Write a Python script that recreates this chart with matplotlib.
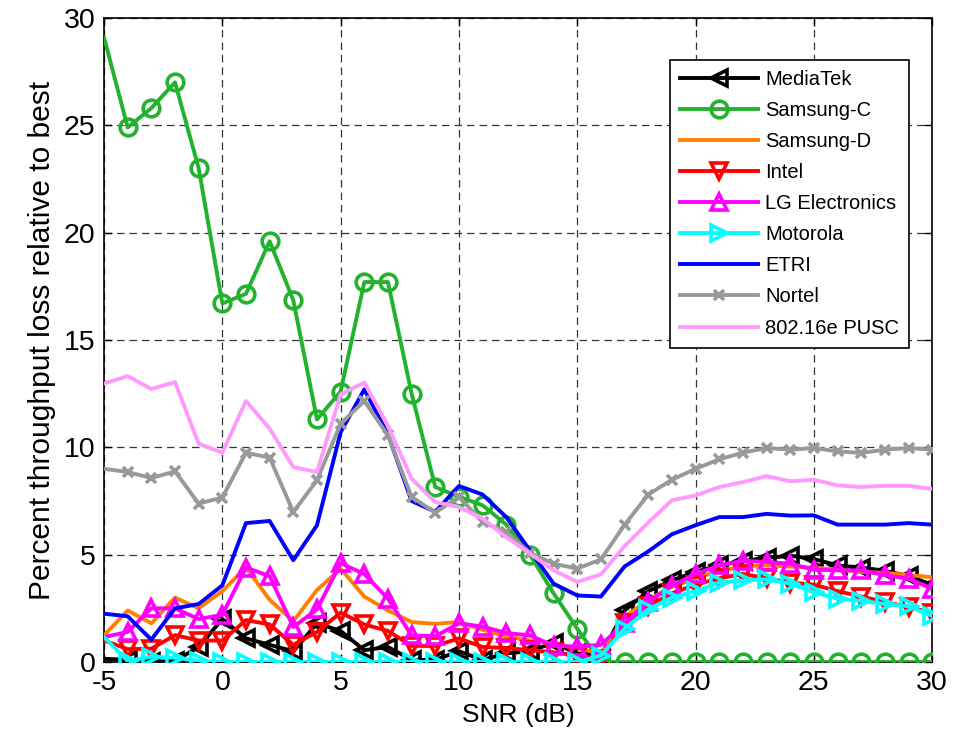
import matplotlib
matplotlib.use("Agg")
import matplotlib.pyplot as plt

plt.rcParams['font.family'] = ['Liberation Sans', 'DejaVu Sans']
plt.rcParams['axes.unicode_minus'] = False

snr = list(range(-5, 31))

mediatek = [0.15, 0.1, 0.0, 0.05, 0.7, 2.0, 1.1, 0.8, 0.5, 1.8, 1.45, 0.55, 0.7, 0.1, 0.1, 0.5,
            0.1, 0.4, 0.5, 0.9, 0.4, 0.3, 2.4, 3.3, 3.8, 4.2, 4.5, 4.7, 4.85, 4.95, 4.8, 4.5,
            4.4, 4.25, 4.0, 3.6]
samsung_c = [29.1, 24.9, 25.8, 27.0, 23.0, 16.7, 17.15, 19.6, 16.85, 11.3, 12.6, 17.7, 17.7,
             12.5, 8.15, 7.7, 7.3, 6.4, 5.0, 3.2, 1.55, 0, 0, 0, 0, 0, 0, 0, 0, 0, 0, 0, 0, 0, 0, 0]
samsung_d = [1.24, 2.4, 1.8, 3.0, 2.5, 3.3, 4.4, 2.9, 1.9, 3.35, 4.35, 3.05, 2.4, 1.86, 1.78,
             1.86, 1.5, 1.2, 1.0, 0.85, 0.65, 0.4, 2.1, 2.9, 3.5, 3.9, 4.25, 4.45, 4.5, 4.45,
             4.4, 4.3, 4.2, 4.15, 4.05, 3.95]
intel = [1.0, 0.6, 0.62, 1.25, 1.0, 1.0, 1.95, 1.75, 0.8, 1.4, 2.3, 1.75, 1.45, 0.75, 0.75,
         1.1, 0.7, 0.65, 0.55, 0.45, 0.3, 0.15, 1.8, 2.6, 3.2, 3.6, 3.9, 4.1, 3.9, 3.7, 3.6,
         3.3, 3.05, 2.8, 2.55, 2.3]
lg = [1.16, 1.4, 2.5, 2.5, 2.0, 2.2, 4.4, 4.0, 1.63, 2.45, 4.6, 4.1, 2.95, 1.24, 1.2, 1.8,
      1.65, 1.35, 1.24, 0.75, 0.72, 0.8, 1.8, 2.8, 3.55, 4.1, 4.5, 4.72, 4.66, 4.58, 4.3,
      4.27, 4.27, 4.05, 3.88, 3.42]
motorola = [1.16, 0.05, 0.25, 0.2, 0.05, 0, 0, 0, 0, 0, 0, 0, 0, 0, 0, 0, 0, 0, 0, 0, 0,
            0.3, 1.55, 2.45, 3.0, 3.3, 3.7, 3.8, 3.85, 3.65, 3.25, 2.95, 2.85, 2.7, 2.6, 2.15]
etri = [2.25, 2.13, 1.04, 2.5, 2.7, 3.57, 6.47, 6.57, 4.74, 6.37, 10.7, 12.7, 10.6, 7.5, 7.0,
        8.2, 7.8, 6.75, 5.2, 3.65, 3.1, 3.05, 4.45, 5.15, 5.95, 6.37, 6.75, 6.75, 6.9, 6.82,
        6.83, 6.4, 6.4, 6.4, 6.47, 6.4]
nortel = [9.0, 8.85, 8.57, 8.88, 7.38, 7.66, 9.75, 9.52, 6.99, 8.46, 11.1, 12.16, 10.56, 7.69,
          6.96, 7.69, 6.52, 6.06, 5.08, 4.58, 4.35, 4.78, 6.39, 7.8, 8.49, 9.0, 9.44, 9.75,
          9.97, 9.89, 9.97, 9.81, 9.74, 9.89, 9.97, 9.89]
pusc = [12.97, 13.32, 12.72, 13.04, 10.17, 9.75, 12.16, 10.87, 9.08, 8.85, 12.47, 13.01, 11.0,
        8.54, 7.45, 7.22, 6.68, 5.82, 5.05, 4.27, 3.73, 4.08, 5.4, 6.5, 7.53, 7.76, 8.15, 8.38,
        8.66, 8.42, 8.49, 8.23, 8.15, 8.21, 8.21, 8.06]

labels = ['MediaTek', 'Samsung-C', 'Samsung-D', 'Intel', 'LG Electronics', 'Motorola',
          'ETRI', 'Nortel', '802.16e PUSC']
series = [mediatek, samsung_c, samsung_d, intel, lg, motorola, etri, nortel, pusc]
colors = ['#000000', '#22b22e', '#ff8000', '#ff0000', '#ff00ff', '#00ffff', '#0000ff',
          '#999999', '#ff99ff']
markers = ['<', 'o', None, 'v', '^', '>', None, 'x', None]
msizes = [12, 12, 0, 12, 12, 12, 0, 7, 0]

fig = plt.figure(figsize=(9.63, 7.40), dpi=100)
ax = fig.add_axes([0.108, 0.1054, 0.86, 0.8703])

for i, (lab, ys, c, m, ms) in enumerate(zip(labels, series, colors, markers, msizes)):
    kw = dict(color=c, lw=2.8, label=lab, zorder=3 + i)
    if m is not None:
        kw.update(marker=m, markersize=ms, markerfacecolor='none', markeredgecolor=c,
                  markeredgewidth=2.6, markevery=slice(1, None))
    ax.plot(snr, ys, **kw)

ax.set_xlim(-5, 30)
ax.set_ylim(0, 30)
ax.set_xticks(range(-5, 31, 5))
ax.set_yticks(range(0, 31, 5))
ax.tick_params(direction='in', length=6, width=1, labelsize=20.5, top=True, right=True,
               pad=6)
ax.grid(True, color='#111111', linestyle=(0, (6, 4)), linewidth=0.9, alpha=0.85)
for s in ax.spines.values():
    s.set_linewidth(1.2)
ax.set_xlabel('SNR (dB)', fontsize=19, labelpad=5)
ax.set_ylabel('Percent throughput loss relative to best', fontsize=21.5, labelpad=6)

leg = ax.legend(loc='upper right', bbox_to_anchor=(0.9726, 0.935), borderaxespad=0,
                fontsize=14.5, numpoints=1, handlelength=3.87, handletextpad=0.38,
                labelspacing=0.6, borderpad=0.5, fancybox=False, framealpha=1,
                edgecolor='black')
leg.get_frame().set_linewidth(1.2)
leg.set_zorder(20)

fig.savefig('out.png', dpi=100)
